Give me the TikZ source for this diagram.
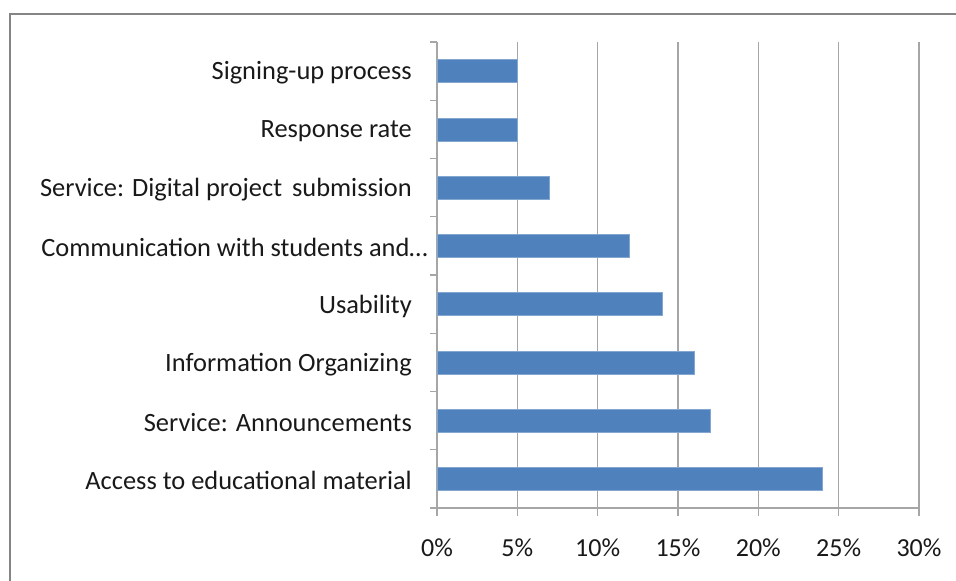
\documentclass[tikz,border=0pt]{standalone}
\usepackage{fontspec}
\setmainfont{Carlito}
\definecolor{barblue}{HTML}{4F81BD}
\definecolor{gridgray}{HTML}{A6A6A6}
\definecolor{framegray}{HTML}{858585}
\begin{document}
\begin{tikzpicture}[x=1pt,y=-1pt,
  bar/.style={fill=barblue,draw=barblue!70!white,line width=0.6pt},
  grid/.style={draw=gridgray,line width=1.3pt},
  catlabel/.style={anchor=east,inner sep=0pt,font=\fontsize{26.4}{30}\selectfont,text=black!90},
  ticklabel/.style={anchor=center,inner sep=0pt,font=\fontsize{26}{30}\selectfont,text=black!90}]
\useasboundingbox (0,0) rectangle (956,581);
\clip (0,0) rectangle (956,581);
% frame
\draw[framegray,line width=2pt] (10,600) -- (10,14) -- (980,14);
% gridlines and x ticks
\foreach \i/\t in {0/0\%,1/5\%,2/10\%,3/15\%,4/20\%,5/25\%,6/30\%}{
  \pgfmathsetmacro{\xx}{437+80.33*\i}
  \coordinate (g\i) at (\xx,508);
  \ifnum\i>0 \draw[grid] (\xx,42) -- (\xx,516); \else \draw[grid] (\xx,508) -- (\xx,516); \fi
  \node[ticklabel] (t\i) at (\xx,548) {\t};
}
% axes
\coordinate (o) at (437,508);
\coordinate (top) at (437,42);
\coordinate (xend) at (919,508);
\draw[grid] (top) -- (o) -- (xend);
% y ticks
\foreach \k in {0,...,8}{
  \pgfmathsetmacro{\yy}{42+58.25*\k}
  \draw[grid] (430,\yy) -- (437,\yy);
}
% bars
\foreach \k/\v/\lab/\xr in {0/5/Signing-up process/412,1/5/Response rate/412,2/7/Service: Digital project\hspace{4pt} submission/412,3/12/Communication with students and\dots/428,4/14/Usability/412,5/16/Information Organizing/412,6/17/Service: Announcements/412,7/24/Access to educational material/412}{
  \pgfmathsetmacro{\yc}{42+58.25*\k+29.125}
  \pgfmathsetmacro{\xe}{437+16.066*\v}
  \path[bar] (437,\yc-11.5) rectangle (\xe,\yc+11.5);
  \node[catlabel] (c\k) at (\xr,\yc+2) {\lab};
}
\end{tikzpicture}
\end{document}
